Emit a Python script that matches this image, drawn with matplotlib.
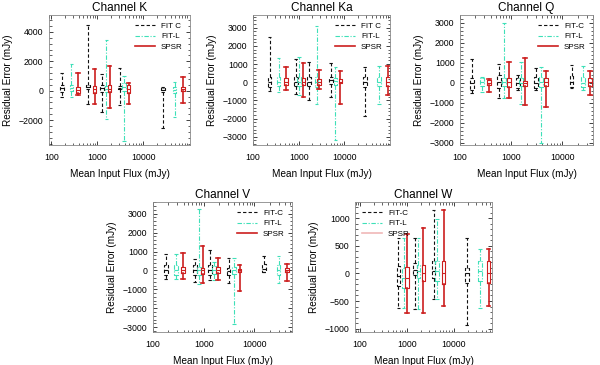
import matplotlib
matplotlib.use("Agg")
import matplotlib.pyplot as plt
from matplotlib.lines import Line2D
from matplotlib.ticker import FixedLocator, AutoMinorLocator, NullFormatter
import numpy as np

# =============================================================================
# box statistics: each row is [whislo, q1, med, q3, whishi]
# positions are the mean input flux (mJy) where each box is drawn
# =============================================================================
k_fitc_pos = [171, 630, 1270, 3100, 27000]
k_fitc = [[-410, -70, 160, 380, 1175],
          [-925, 90, 220, 360, 4450],
          [-1420, -70, 160, 380, 1100],
          [-970, 90, 200, 330, 1560],
          [-2550, -80, 40, 150, 250]]
k_fitl_pos = [273, 1580, 3850, 49000]
k_fitl = [[-410, 0, 150, 380, 1785],
          [-1920, -60, 100, 300, 3435],
          [-3460, -40, 260, 520, 995],
          [-1760, -180, 50, 270, 610]]
k_spsr_pos = [381, 885, 1870, 4850, 74000]
k_spsr = [[-290, -180, 45, 270, 1175],
          [-925, -180, 110, 340, 1470],
          [-1200, -90, 110, 360, 1700],
          [-925, -130, 110, 360, 500],
          [-860, -40, 120, 270, 950]]

ka_fitc_pos = [230, 870, 1690, 5140, 28500]
ka_fitc = [[-460, -275, 0, 275, 2470],
           [-640, -220, 0, 275, 1280],
           [-1000, -200, 0, 275, 1100],
           [-820, -90, 100, 275, 1040],
           [-1830, -275, 0, 275, 820]]
ka_fitl_pos = [365, 1020, 2470, 6340, 58000]
ka_fitl = [[-510, -220, 0, 275, 1320],
           [-700, -220, 0, 275, 1370],
           [-1190, -250, 0, 275, 3110],
           [-3160, -130, 50, 220, 820],
           [-1190, -220, 0, 275, 915]]
ka_spsr_pos = [528, 1270, 2780, 8200, 91000]
ka_spsr = [[-400, -150, 20, 220, 820],
           [-820, -170, 20, 220, 1040],
           [-350, -150, 20, 200, 700],
           [-1190, -50, 0, 200, 640],
           [-700, -220, 20, 310, 915]]

q_fitc_pos = [175, 590, 1350, 3100, 15300]
q_fitc = [[-500, -350, 0, 250, 1200],
          [-780, -280, 50, 380, 920],
          [-350, -250, 0, 250, 400],
          [-350, -280, 0, 300, 720],
          [-250, -230, 50, 330, 880]]
q_fitl_pos = [268, 740, 1570, 3900, 26000]
q_fitl = [[-480, -150, 50, 215, 300],
          [-780, -150, 50, 215, 2970],
          [-1080, -150, 0, 215, 1050],
          [-3000, -230, 50, 300, 800],
          [-370, -230, 0, 270, 830]]
q_spsr_pos = [373, 900, 1890, 4900, 35000]
q_spsr = [[-450, -120, 0, 130, 200],
          [-780, -200, 50, 215, 1050],
          [-1120, -150, 0, 100, 1220],
          [-1200, -170, 50, 215, 580],
          [-620, -170, 50, 215, 600]]

v_fitc_pos = [184, 670, 1340, 3100, 15300]
v_fitc = [[-440, -265, 0, 265, 850],
          [-620, -265, 0, 265, 620],
          [-530, -265, 0, 265, 1100],
          [-650, -265, -50, 150, 670],
          [-90, -90, 100, 350, 740]]
v_fitl_pos = [290, 810, 1600, 3900, 30000]
v_fitl = [[-440, -265, 0, 265, 850],
          [-700, -265, 0, 175, 3260],
          [-530, -210, 0, 210, 440],
          [-2860, -180, 0, 180, 670],
          [-670, -265, 0, 265, 740]]
v_spsr_pos = [395, 950, 1950, 5100, 44000]
v_spsr = [[-440, -140, 0, 175, 920],
          [-650, -175, 0, 140, 1270],
          [-530, -140, 0, 175, 670],
          [-1090, -90, 0, 90, 260],
          [-560, -90, 0, 140, 350]]

w_fitc_pos = [660, 1510, 3720, 19300]
w_fitc = [[-630, -230, -50, 130, 645],
          [-650, -30, 60, 190, 645],
          [-470, -80, 40, 220, 1140],
          [-935, -170, 10, 100, 645]]
w_fitl_pos = [850, 1770, 4400, 37000]
w_fitl = [[-630, -260, -80, 100, 645],
          [-650, -80, 40, 160, 645],
          [-470, -140, 40, 220, 975],
          [-620, -140, 40, 220, 435]]
w_spsr_pos = [1000, 2260, 6100, 56000]
w_spsr = [[-710, -270, -80, 115, 705],
          [-710, -140, 10, 160, 825],
          [-590, -200, 10, 220, 1140],
          [-590, -170, 10, 220, 435]]

titles = ["Channel K", "Channel Ka", "Channel Q", "Channel V", "Channel W"]
xtick_vals = [100, 1000, 10000]
k_yticks = [-2000, 0, 2000, 4000]
ka_yticks = [-3000, -2000, -1000, 0, 1000, 2000, 3000]
q_yticks = [-3000, -2000, -1000, 0, 1000, 2000, 3000]
v_yticks = [-3000, -2000, -1000, 0, 1000, 2000, 3000]
w_yticks = [-1000, -500, 0, 500, 1000]
# =============================================================================

plt.rcParams["font.family"] = ["Liberation Sans", "DejaVu Sans"]

BLACK = "#111111"
CYAN = "#3ee0b8"
RED = "#cc1f1f"

STYLES = {
    "fitc": dict(color=BLACK, linestyle=(0, (3, 2)), linewidth=0.8),
    "fitl": dict(color=CYAN, linestyle=(0, (4, 1.5, 1, 1.5)), linewidth=0.8),
    "spsr": dict(color=RED, linestyle="-", linewidth=1.2),
}


def to_stats(rows):
    keys = ["whislo", "q1", "med", "q3", "whishi"]
    return [dict(zip(keys, r)) for r in rows]


def draw_boxes(ax, pos, rows, style):
    pos = np.asarray(pos, dtype=float)
    widths = pos * 0.17
    props = dict(style)
    ax.bxp(to_stats(rows), positions=pos, widths=widths, capwidths=widths,
           showfliers=False, manage_ticks=False,
           boxprops=dict(props, linewidth=0.8), whiskerprops=props, capprops=props,
           medianprops=dict(props, linestyle="-", linewidth=0.8))


def setup_panel(ax, title, xlim, ylim, yticks):
    ax.set_xscale("log")
    ax.set_xlim(*xlim)
    ax.set_ylim(*ylim)
    ax.xaxis.set_major_locator(FixedLocator(xtick_vals))
    ax.set_xticklabels([str(v) for v in xtick_vals])
    ax.xaxis.set_minor_formatter(NullFormatter())
    ax.set_yticks(yticks)
    ax.yaxis.set_minor_locator(AutoMinorLocator(5))
    ax.tick_params(which="both", direction="in", top=True, right=True, color="#222222")
    ax.tick_params(which="major", length=3, width=0.6, labelsize=6.3)
    ax.tick_params(which="minor", length=1.8, width=0.5)
    ax.tick_params(axis="x", pad=6)
    ax.tick_params(axis="y", pad=4)
    for sp in ax.spines.values():
        sp.set_color("#888888")
        sp.set_linewidth(0.6)
    ax.set_title(title, fontsize=8.5, pad=3)
    ax.set_xlabel("Mean Input Flux (mJy)", fontsize=7.2)
    ax.set_ylabel("Residual Error (mJy)", fontsize=7.2)


def add_legend(ax, labels, loc, anchor, spsr_color=RED):
    handles = [Line2D([], [], **STYLES["fitc"]),
               Line2D([], [], **STYLES["fitl"]),
               Line2D([], [], **dict(STYLES["spsr"], color=spsr_color))]
    ax.legend(handles, labels, loc=loc, bbox_to_anchor=anchor, frameon=False,
              fontsize=5.8, handlelength=2.4, handletextpad=0.8,
              labelspacing=0.35, borderaxespad=0.5)


fig = plt.figure(figsize=(6.0, 3.65), dpi=100)
W, H = 600.0, 365.0


def make_axes(left, top, right, bottom):
    return fig.add_axes([left / W, 1 - bottom / H, (right - left) / W, (bottom - top) / H])


ax_k = make_axes(49, 15, 190, 145)
ax_ka = make_axes(253, 15, 390, 145)
ax_q = make_axes(460, 15, 593, 145)
ax_v = make_axes(153, 202, 292, 332)
ax_w = make_axes(355, 202, 492, 332)

panels = [
    (ax_k, k_fitc_pos, k_fitc, k_fitl_pos, k_fitl, k_spsr_pos, k_spsr),
    (ax_ka, ka_fitc_pos, ka_fitc, ka_fitl_pos, ka_fitl, ka_spsr_pos, ka_spsr),
    (ax_q, q_fitc_pos, q_fitc, q_fitl_pos, q_fitl, q_spsr_pos, q_spsr),
    (ax_v, v_fitc_pos, v_fitc, v_fitl_pos, v_fitl, v_spsr_pos, v_spsr),
    (ax_w, w_fitc_pos, w_fitc, w_fitl_pos, w_fitl, w_spsr_pos, w_spsr),
]
for ax, cp, c, lp, l, sp, s in panels:
    draw_boxes(ax, cp, c, STYLES["fitc"])
    draw_boxes(ax, lp, l, STYLES["fitl"])
    draw_boxes(ax, sp, s, STYLES["spsr"])

setup_panel(ax_k, titles[0], (89, 1.05e5), (-3700, 5150), k_yticks)
setup_panel(ax_ka, titles[1], (100, 1.0e5), (-3450, 3700), ka_yticks)
setup_panel(ax_q, titles[2], (100, 4.0e4), (-3120, 3380), q_yticks)
setup_panel(ax_v, titles[3], (100, 5.5e4), (-3260, 3620), v_yticks)
setup_panel(ax_w, titles[4], (78, 6.6e4), (-1060, 1290), w_yticks)

# label placement measured in pixels from each axes edge
for ax, wpx in [(ax_k, 141), (ax_ka, 137), (ax_q, 133), (ax_v, 139), (ax_w, 137)]:
    ax.yaxis.set_label_coords(-36.0 / wpx, 0.5)
    ax.xaxis.set_label_coords(0.5, -24.0 / 130)

add_legend(ax_k, ["FIT C", "FIT-L", "SPSR"], "upper right", (1.0, 1.0))
add_legend(ax_ka, ["FIT C", "FIT-L", "SPSR"], "upper right", (1.0, 1.0))
add_legend(ax_q, ["FIT-C", "FIT-L", "SPSR"], "upper right", (1.0, 1.0))
add_legend(ax_v, ["FIT-C", "FIT-L", "SPSR"], "upper right", (1.0, 1.0))
add_legend(ax_w, ["FIT-C", "FIT-L", "SPSR"], "upper left", (0.0, 1.0), spsr_color="#f0b8b8")

fig.savefig("out.png", dpi=100)
